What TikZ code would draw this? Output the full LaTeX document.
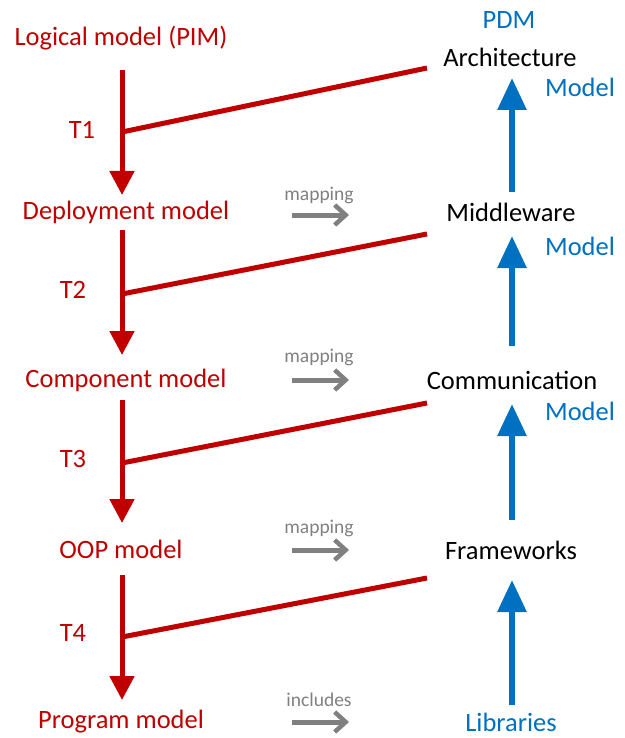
\documentclass[tikz,border=0pt]{standalone}
\usepackage{fontspec}
\setmainfont{Carlito}
\usetikzlibrary{arrows.meta}
\definecolor{dred}{HTML}{C00000}
\definecolor{mblue}{HTML}{0070C0}
\definecolor{mgray}{HTML}{808080}
\begin{document}
\begin{tikzpicture}[x=1pt,y=-1pt,
  lbl/.style={inner sep=0pt,font=\fontsize{26.5}{30}\selectfont},
  redlbl/.style={lbl,text=dred},
  bluelbl/.style={lbl,text=mblue},
  blacklbl/.style={lbl,text=black},
  small/.style={inner sep=0pt,font=\fontsize{19.5}{22}\selectfont,text=mgray},
  redarr/.style={draw=dred,line width=5pt,-{Triangle[width=24pt,length=24pt]}},
  redline/.style={draw=dred,line width=5pt},
  bluearr/.style={draw=mblue,line width=6pt,-{Triangle[width=28pt,length=32pt]}},
  grayarr/.style={draw=mgray,line width=5pt,-{Straight Barb[width=20pt,length=11pt,line width=4.5pt]}}
]
\useasboundingbox (0,0) rectangle (624,738);
% left column
\node[redlbl] (pim) at (121,38) {Logical model (PIM)};
\node[redlbl] (dep) at (126,212) {Deployment model};
\node[redlbl] (comp) at (126,380) {Component model};
\node[redlbl] (oop) at (121,549) {OOP model};
\node[redlbl] (prog) at (121,722) {Program model};
\node[redlbl] (t1) at (82,130) {T1};
\node[redlbl] (t2) at (73,290) {T2};
\node[redlbl] (t3) at (73,459) {T3};
\node[redlbl] (t4) at (73,633) {T4};
% right column
\node[bluelbl] (pdm) at (509,20) {PDM};
\node[blacklbl] (arch) at (510,57) {Architecture};
\node[blacklbl] (mid) at (511,212) {Middleware};
\node[blacklbl] (comm) at (512,380) {Communication};
\node[blacklbl] (fw) at (511,550) {Frameworks};
\node[bluelbl] (lib) at (511,722) {Libraries};
\node[bluelbl] (m1) at (580,87) {Model};
\node[bluelbl] (m2) at (580,246) {Model};
\node[bluelbl] (m3) at (580,411) {Model};
% mapping labels
\node[small] (l1) at (319,195) {mapping};
\node[small] (l2) at (319,357) {mapping};
\node[small] (l3) at (319,528) {mapping};
\node[small] (l4) at (319,700) {includes};
% coordinates
\coordinate (r1s) at (122,70);  \coordinate (r1e) at (122,195);
\coordinate (r2s) at (122,230); \coordinate (r2e) at (122,355);
\coordinate (r3s) at (122,400); \coordinate (r3e) at (122,523);
\coordinate (r4s) at (122,575); \coordinate (r4e) at (122,700);
\coordinate (j1) at (122,132); \coordinate (e1) at (427,68);
\coordinate (j2) at (122,294); \coordinate (e2) at (427,234);
\coordinate (j3) at (122,463); \coordinate (e3) at (427,403);
\coordinate (j4) at (122,637); \coordinate (e4) at (427,578);
\coordinate (b1s) at (512,192); \coordinate (b1e) at (512,78);
\coordinate (b2s) at (512,346); \coordinate (b2e) at (512,236);
\coordinate (b3s) at (512,520); \coordinate (b3e) at (512,404);
\coordinate (b4s) at (512,705); \coordinate (b4e) at (512,580);
\coordinate (g1s) at (292,215); \coordinate (g1e) at (349,215);
\coordinate (g2s) at (292,380); \coordinate (g2e) at (349,380);
\coordinate (g3s) at (292,550); \coordinate (g3e) at (349,550);
\coordinate (g4s) at (292,722); \coordinate (g4e) at (349,722);
% red arrows and lines
\draw[redarr] (r1s) -- (r1e);
\draw[redarr] (r2s) -- (r2e);
\draw[redarr] (r3s) -- (r3e);
\draw[redarr] (r4s) -- (r4e);
\draw[redline] (j1) -- (e1);
\draw[redline] (j2) -- (e2);
\draw[redline] (j3) -- (e3);
\draw[redline] (j4) -- (e4);
% blue arrows
\draw[bluearr] (b1s) -- (b1e);
\draw[bluearr] (b2s) -- (b2e);
\draw[bluearr] (b3s) -- (b3e);
\draw[bluearr] (b4s) -- (b4e);
% gray arrows
\draw[grayarr] (g1s) -- (g1e);
\draw[grayarr] (g2s) -- (g2e);
\draw[grayarr] (g3s) -- (g3e);
\draw[grayarr] (g4s) -- (g4e);
\end{tikzpicture}
\end{document}
